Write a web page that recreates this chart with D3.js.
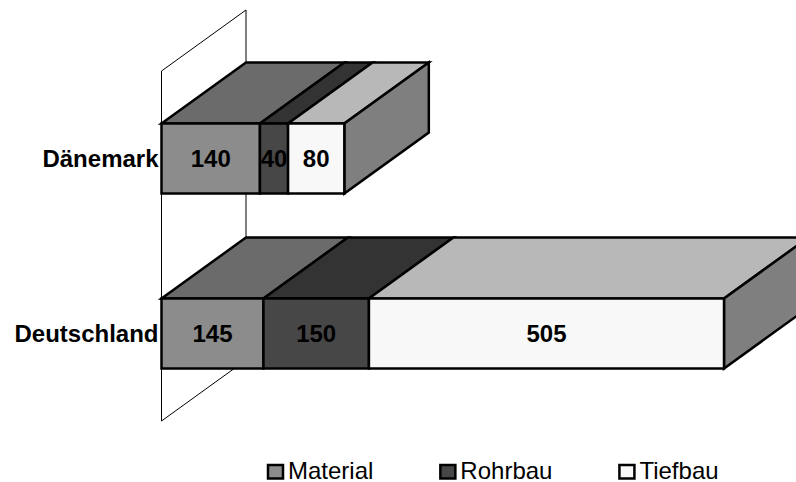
<!DOCTYPE html>
<html>
<head>
<meta charset="utf-8">
<script src="https://cdn.jsdelivr.net/npm/d3@7"></script>
<style>
  html, body { margin: 0; padding: 0; background: #fff; }
  svg { display: block; }
  text { font-family: "Liberation Sans", Arial, sans-serif; fill: #000; }
</style>
</head>
<body>
<svg id="chart" width="796" height="482"></svg>
<script>
// Horizontal stacked 3D bars: cost split by country
const categories = ["Dänemark", "Deutschland"];
const seriesNames = ["Material", "Rohrbau", "Tiefbau"];
const material = [140, 145];
const rohrbau = [40, 150];
const tiefbau = [80, 505];
const maxValue = 800;

const frontFill = ["#8c8c8c", "#474747", "#f8f8f8"];
const topFill = ["#6b6b6b", "#333333", "#b8b8b8"];
const sideFill = "#7f7f7f";

const depthX = 84.5, depthY = -61;
const svg = d3.select("#chart");

const x = d3.scaleLinear().domain([0, maxValue]).range([161.5, 724]);
const y = d3.scaleBand().domain(categories)
  .range([71, 421]).paddingInner(0.6).paddingOuter(0.3);

const rows = categories.map((name, i) => ({ name, values: [material[i], rohrbau[i], tiefbau[i]] }));
const line = d3.line();

// Back walls of the plot box, drawn as thin outlines behind the bars
const wall = svg.append("g").attr("fill", "none").attr("stroke", "#000").attr("stroke-width", 1);
const [y0, y1] = y.range();
wall.append("path").attr("d", line([
  [x(0), y1], [x(0), y0], [x(0) + depthX, y0 + depthY], [x(0) + depthX, y1 + depthY]
]));
wall.append("path").attr("d", line([[x(0), y1], [x(0) + depthX, y1 + depthY]]));

// One group per category, with front, top and end faces
const barGroups = svg.append("g").selectAll("g").data(rows).join("g")
  .attr("stroke", "#000").attr("stroke-width", 2.5).attr("stroke-linejoin", "miter");

barGroups.each(function (row) {
  const g = d3.select(this);
  const top = y(row.name), h = y.bandwidth();
  const segments = [];
  let sum = 0;
  row.values.forEach((v, s) => { segments.push({ s, v, a: sum, b: sum + v }); sum += v; });

  g.selectAll("path.top").data(segments).join("path").attr("class", "top")
    .attr("fill", d => topFill[d.s])
    .attr("d", d => line([
      [x(d.a), top], [x(d.a) + depthX, top + depthY],
      [x(d.b) + depthX, top + depthY], [x(d.b), top]
    ]) + "Z");

  const end = x(sum);
  g.append("path").attr("fill", sideFill)
    .attr("d", line([
      [end, top], [end + depthX, top + depthY],
      [end + depthX, top + h + depthY], [end, top + h]
    ]) + "Z");

  g.selectAll("rect").data(segments).join("rect")
    .attr("x", d => x(d.a)).attr("y", top)
    .attr("width", d => x(d.b) - x(d.a)).attr("height", h)
    .attr("fill", d => frontFill[d.s]);

  g.selectAll("text.value").data(segments).join("text").attr("class", "value")
    .attr("x", d => (x(d.a) + x(d.b)) / 2).attr("y", top + h / 2)
    .attr("dy", "0.36em").attr("text-anchor", "middle")
    .attr("stroke", "none").attr("font-weight", "bold").attr("font-size", 24)
    .text(d => d.v);

  g.append("text")
    .attr("x", x(0) - 3).attr("y", top + h / 2).attr("dy", "0.36em")
    .attr("text-anchor", "end").attr("stroke", "none")
    .attr("font-weight", "bold").attr("font-size", 24)
    .text(row.name);
});

// Legend along the bottom: each entry follows the previous one's label width
const legendGap = 87;
let legendCursor = 268;
svg.append("g").selectAll("g").data(seriesNames).join("g")
  .each(function (name, i) {
    const g = d3.select(this).attr("transform", `translate(${legendCursor},465)`);
    g.append("rect")
      .attr("width", 15).attr("height", 13.5)
      .attr("fill", frontFill[i]).attr("stroke", "#000").attr("stroke-width", 2.5);
    const label = g.append("text")
      .attr("x", 20).attr("y", 14).attr("font-size", 24)
      .text(name);
    legendCursor += label.node().getComputedTextLength() + legendGap;
  });
</script>
</body>
</html>
